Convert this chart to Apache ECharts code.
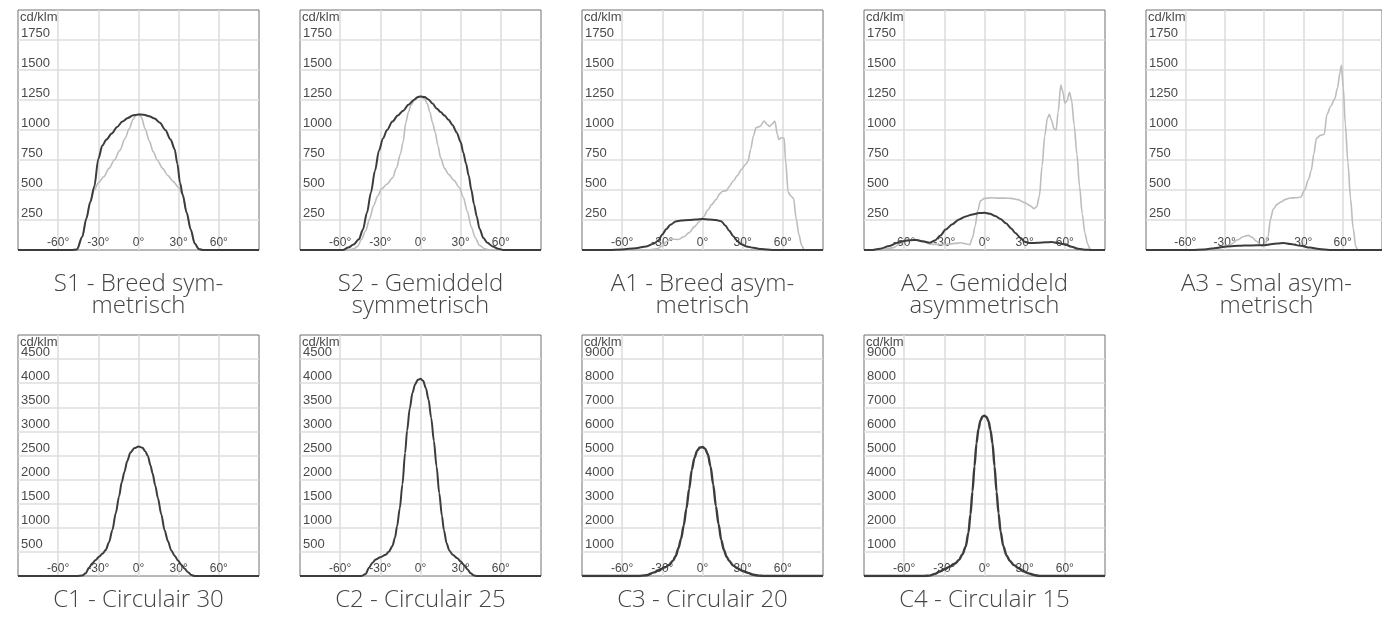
<!DOCTYPE html>
<html><head><meta charset="utf-8">
<script src="https://cdn.jsdelivr.net/npm/echarts@6/dist/echarts.min.js"></script>
<style>html,body{margin:0;padding:0;background:#fff}#c{width:1382px;height:620px}</style>
</head><body><div id="c"></div>
<script>
// ---- data ----
const panelTitles = [
  'S1 - Breed sym-\nmetrisch',
  'S2 - Gemiddeld\nsymmetrisch',
  'A1 - Breed asym-\nmetrisch',
  'A2 - Gemiddeld\nasymmetrisch',
  'A3 - Smal asym-\nmetrisch',
  'C1 - Circulair 30',
  'C2 - Circulair 25',
  'C3 - Circulair 20',
  'C4 - Circulair 15'
];
const unitLabel = 'cd/klm';
const angleMin = -90, angleMax = 90, angleStep = 30;
const yMaxes = [2000, 2000, 2000, 2000, 2000, 5000, 5000, 10000, 10000];
const ySteps = [250, 250, 250, 250, 250, 500, 500, 1000, 1000];

const s1Dark = [[-90,0],[-50,0],[-46,5],[-42,110],[-39,260],[-36,400],[-33,530],[-30,760],[-27,870],[-24,920],[-20,970],[-16,1025],[-12,1070],[-8,1100],[-4,1122],[0,1130],[4,1127],[8,1115],[12,1095],[16,1060],[20,1000],[24,920],[27,840],[29,720],[31,560],[33,460],[36,310],[39,170],[42,55],[45,8],[48,0],[90,0]];
const s1Light = [[-90,0],[-50,0],[-46,5],[-42,110],[-39,260],[-36,400],[-33,500],[-30,560],[-26,610],[-22,680],[-18,750],[-14,830],[-10,930],[-7,1010],[-4,1090],[-2,1120],[0,1130],[2,1110],[5,1010],[8,910],[11,820],[14,750],[18,680],[22,620],[26,570],[30,520],[33,460],[36,310],[39,170],[42,55],[45,8],[48,0],[90,0]];
const s2Dark = [[-90,0],[-58,0],[-54,20],[-50,45],[-46,90],[-43,170],[-40,310],[-37,480],[-34,660],[-31,830],[-28,930],[-25,1000],[-21,1070],[-17,1120],[-13,1160],[-9,1210],[-5,1250],[-2,1275],[0,1280],[3,1275],[6,1255],[9,1220],[12,1180],[15,1150],[18,1120],[21,1085],[24,1040],[27,980],[30,900],[32,810],[34,720],[36,620],[38,500],[40,380],[42,280],[44,180],[47,100],[50,60],[54,30],[58,10],[62,0],[90,0]];
const s2Light = [[-90,0],[-55,0],[-50,10],[-47,30],[-44,90],[-41,160],[-38,260],[-35,370],[-32,450],[-29,510],[-25,550],[-21,600],[-18,680],[-15,800],[-13,900],[-11,1060],[-9,1150],[-7,1210],[-4,1260],[0,1280],[3,1260],[5,1220],[7,1150],[9,1060],[11,980],[13,870],[15,770],[18,680],[21,630],[25,580],[29,520],[32,440],[35,320],[38,190],[41,100],[44,40],[48,10],[52,0],[90,0]];
const a1Dark = [[-90,0],[-70,0],[-60,5],[-50,15],[-42,30],[-36,55],[-33,80],[-30,130],[-27,175],[-24,210],[-20,238],[-16,245],[-10,250],[-5,255],[0,258],[5,255],[10,250],[14,240],[17,205],[20,160],[23,115],[26,75],[29,48],[33,30],[38,18],[44,8],[52,0],[90,0]];
const a1Light = [[-90,0],[-40,0],[-34,10],[-30,33],[-27,70],[-24,90],[-18,88],[-14,110],[-10,145],[-6,195],[-2,240],[1,280],[4,335],[7,380],[10,420],[13,470],[15,490],[18,495],[20,530],[23,575],[26,620],[29,670],[32,710],[34,740],[36,840],[38,950],[40,1020],[43,1030],[46,1075],[48,1050],[50,1030],[52,1050],[54,1075],[56,960],[57,920],[59,935],[61,930],[62,750],[64,480],[66,450],[68,430],[70,260],[72,130],[74,40],[76,0],[90,0]];
const a2Dark = [[-90,0],[-85,0],[-78,10],[-71,33],[-65,60],[-60,75],[-55,82],[-51,83],[-46,72],[-41,61],[-37,80],[-33,120],[-29,170],[-24,215],[-19,255],[-14,280],[-9,296],[-4,308],[0,310],[4,302],[8,283],[12,258],[16,222],[20,180],[23,142],[27,100],[30,68],[34,58],[40,60],[46,64],[50,66],[55,58],[60,47],[65,28],[70,10],[75,3],[80,0],[90,0]];
const a2Light = [[-90,0],[-80,0],[-74,8],[-68,20],[-63,55],[-59,78],[-54,88],[-50,85],[-45,65],[-40,48],[-33,45],[-28,47],[-22,55],[-18,60],[-14,52],[-11,45],[-9,100],[-7,200],[-5,330],[-3,410],[0,430],[5,435],[10,432],[15,432],[20,430],[25,420],[30,395],[34,370],[37,345],[39,360],[41,450],[43,700],[45,950],[47,1100],[48.5,1130],[50,1080],[52,1010],[53.5,1000],[55,1150],[57,1375],[58.5,1320],[60,1225],[61.5,1240],[63.5,1315],[65,1250],[67,1040],[69,800],[71,530],[73,300],[75,140],[77,50],[79,5],[82,0],[90,0]];
const a3Dark = [[-90,0],[-55,0],[-45,5],[-38,15],[-30,28],[-20,35],[-10,38],[0,40],[10,55],[15,58],[20,50],[28,35],[35,20],[42,8],[50,0],[90,0]];
const a3Light = [[-90,0],[-60,0],[-50,3],[-40,8],[-35,18],[-30,30],[-25,48],[-20,85],[-16,110],[-12,122],[-9,105],[-6,75],[-3,45],[-1,33],[1,50],[3,110],[5,260],[7,340],[10,380],[13,400],[16,420],[20,433],[24,435],[28,440],[31,500],[34,590],[36,660],[38,800],[40,930],[43,955],[46,965],[48,1130],[51,1200],[54,1260],[56,1350],[58,1480],[59,1540],[60.5,1350],[62,1050],[64,730],[66,430],[68,180],[70,30],[71.5,0],[90,0]];
const c1Dark = [[-90,0],[-46,0],[-42,10],[-39.5,55],[-37,170],[-34.5,265],[-32,330],[-29.5,400],[-27,460],[-24.5,540],[-22,700],[-19.5,955],[-17,1300],[-14.5,1650],[-12.5,1950],[-10.5,2160],[-8.5,2380],[-6,2560],[-3,2655],[0,2685],[3,2660],[5,2590],[7,2490],[9,2290],[10.5,2130],[12.5,1880],[14.5,1620],[17,1280],[19.5,950],[22,720],[24.5,530],[27,420],[29.5,320],[32,230],[34.5,150],[37,80],[39.5,20],[42,0],[90,0]];
const c2Dark = [[-90,0],[-44,0],[-41,40],[-38.5,170],[-36,270],[-33.5,340],[-30,390],[-26,440],[-23.5,510],[-21,620],[-19,800],[-17.5,1030],[-15.5,1400],[-13.5,1900],[-11.5,2550],[-10,3020],[-8,3480],[-6,3800],[-4,3980],[-2,4070],[0,4090],[2,4050],[4,3900],[6,3660],[8,3280],[10,2800],[12,2270],[14,1720],[16,1250],[17.5,950],[19.5,680],[21.5,530],[24,440],[27.5,370],[30,300],[32.5,230],[35,140],[37.5,55],[40,10],[42,0],[90,0]];
const c3Dark = [[-90,0],[-48,0],[-42,30],[-36,150],[-32,260],[-28,360],[-25,460],[-22,640],[-20,830],[-18,1150],[-16,1550],[-14,2100],[-12,2800],[-10,3600],[-8,4400],[-6,4900],[-4,5200],[-2,5330],[0,5350],[2,5280],[4,5050],[6,4550],[8,3800],[10,2900],[12,2150],[14,1500],[16,1080],[18,800],[20,620],[23,430],[26,320],[30,210],[34,130],[38,50],[42,15],[46,0],[90,0]];
const c4Dark = [[-90,0],[-46,0],[-41,15],[-37,90],[-33.5,185],[-30,280],[-26,390],[-22,520],[-19,670],[-16.5,900],[-14,1230],[-12,1800],[-10.5,2550],[-9,3500],[-7.5,4550],[-6,5500],[-4.5,6100],[-3,6450],[-1.5,6620],[0,6650],[1.5,6600],[3,6420],[4.5,6050],[6,5500],[7.5,4550],[9,3500],[10.5,2600],[12,1850],[14,1250],[16.5,850],[19,620],[22,450],[25.5,320],[29,200],[33,110],[37,40],[41,0],[90,0]];

const darkSeries = [s1Dark, s2Dark, a1Dark, a2Dark, a3Dark, c1Dark, c2Dark, c3Dark, c4Dark];
const lightSeries = [s1Light, s2Light, a1Light, a2Light, a3Light, null, null, null, null];

// ---- layout ----
const FONT = 'Liberation Sans, Arial, sans-serif';
const grids = [], xAxes = [], yAxes = [], series = [], titles = [];
for (let i = 0; i < 9; i++) {
  const row = i < 5 ? 0 : 1;
  const col = row === 0 ? i : i - 5;
  const left = 18 + col * 282;
  const top = row === 0 ? 10 : 335;
  const w = 241, h = row === 0 ? 240 : 241;
  grids.push({left: left, top: top, width: w, height: h, show: true, borderColor: '#707070', borderWidth: 1, backgroundColor: '#fff'});
  xAxes.push({
    type: 'value', gridIndex: i, min: angleMin, max: angleMax, interval: angleStep,
    axisLine: {show: false}, axisTick: {show: false},
    splitLine: {show: true, showMinLine: false, showMaxLine: false, lineStyle: {color: '#dedede', width: 1.6}},
    axisLabel: {inside: true, margin: 1, showMinLabel: false, showMaxLabel: false, color: '#4a4a4a', fontSize: 12, fontFamily: FONT,
      verticalAlign: 'bottom', formatter: v => v + '°'}
  });
  yAxes.push({
    type: 'value', gridIndex: i, min: 0, max: yMaxes[i], interval: ySteps[i],
    axisLine: {show: false}, axisTick: {show: false},
    splitLine: {show: true, showMinLine: false, showMaxLine: false, lineStyle: {color: '#dedede', width: 1.6}},
    axisLabel: {inside: true, margin: 3, showMinLabel: false, showMaxLabel: false, color: '#4a4a4a', fontSize: 13, fontFamily: FONT,
      align: 'left', verticalAlign: 'bottom', lineHeight: 14, formatter: v => String(v)}
  });
  if (lightSeries[i]) {
    series.push({type: 'line', xAxisIndex: i, yAxisIndex: i, data: lightSeries[i], showSymbol: false, smooth: 0.3, smoothMonotone: 'x',
      lineStyle: {color: '#bdbdbd', width: 1.6}, silent: true, z: 2});
  }
  series.push({type: 'line', xAxisIndex: i, yAxisIndex: i, data: darkSeries[i], showSymbol: false, smooth: 0.3, smoothMonotone: 'x',
    lineStyle: {color: '#3c3c3c', width: row === 1 && col >= 2 ? 2.4 : 2}, silent: true, z: 3});
  titles.push({
    text: panelTitles[i], left: left + w / 2, top: row === 0 ? 273 : 589, textAlign: 'center', padding: 0,
    textStyle: {color: '#444', fontSize: 24, fontWeight: 300, fontFamily: 'Open Sans, Roboto, Liberation Sans, sans-serif', lineHeight: 22}
  });
  titles.push({
    text: unitLabel, left: left + 2, top: top + 1, padding: 0,
    textStyle: {color: '#4a4a4a', fontSize: 13, fontWeight: 'normal', fontFamily: FONT, lineHeight: 13}
  });
}

const chart = echarts.init(document.getElementById('c'), null, {renderer: 'canvas'});
chart.setOption({animation: false, backgroundColor: '#fff', title: titles, grid: grids, xAxis: xAxes, yAxis: yAxes, series: series});
</script></body></html>
